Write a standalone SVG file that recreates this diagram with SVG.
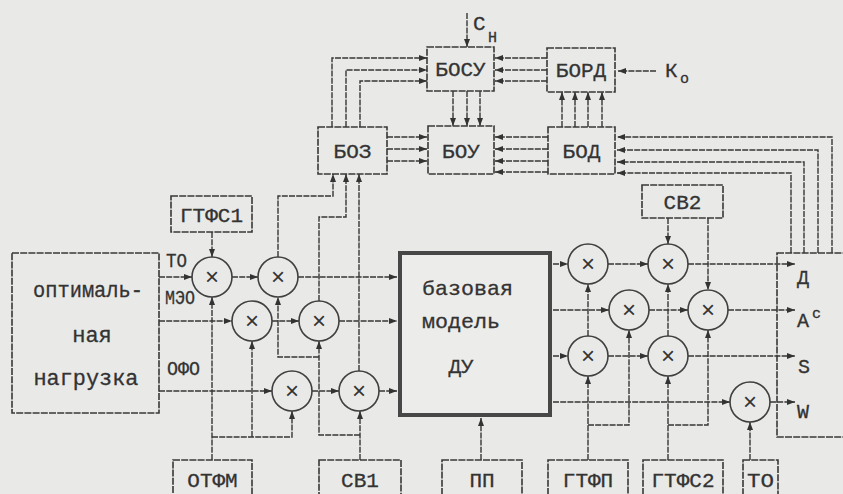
<svg xmlns="http://www.w3.org/2000/svg" width="843" height="494" viewBox="0 0 843 494">
<style>
.bx{fill:none;stroke:#383838;stroke-width:1.6;stroke-dasharray:7 1.2}
.thick{fill:#ececea;stroke:#474747;stroke-width:4}
.c{fill:none;stroke:#404040;stroke-width:1.6}
.ln{fill:none;stroke:#363636;stroke-width:1.4;stroke-dasharray:6 1.2}
.ar{marker-end:url(#a)}
.t{font-family:"Liberation Mono","DejaVu Sans Mono",monospace;font-size:21px;fill:#333;stroke:#333;stroke-width:0.3;text-anchor:middle}
.s{font-family:"Liberation Mono","DejaVu Sans Mono",monospace;font-size:21px;fill:#333;stroke:#333;stroke-width:0.3}
.x{font-family:"Liberation Sans","DejaVu Sans",sans-serif;font-size:24px;fill:#333;text-anchor:middle}
</style>
<defs>
<marker id="a" viewBox="0 0 8 6" refX="8" refY="3" markerWidth="8" markerHeight="6" markerUnits="userSpaceOnUse" orient="auto"><path d="M0,0 L8,3 L0,6 z" fill="#333"/></marker>
</defs>
<rect width="843" height="494" fill="#e9e9e7"/>

<g id="connectors">
<path class="ln ar" d="M467,13 V47"/>
<path class="ln ar" d="M656,71 H618"/>
<path class="ln ar" d="M332,127 V58 H427"/>
<path class="ln ar" d="M346,127 V70 H427"/>
<path class="ln ar" d="M360,127 V81 H427"/>
<path class="ln ar" d="M547,58 H495"/>
<path class="ln ar" d="M547,70 H495"/>
<path class="ln ar" d="M547,81 H495"/>
<path class="ln ar" d="M453,91 V126"/>
<path class="ln ar" d="M467,91 V126"/>
<path class="ln ar" d="M480,91 V126"/>
<path class="ln ar" d="M562,127 V92"/>
<path class="ln ar" d="M575,127 V92"/>
<path class="ln ar" d="M588,127 V92"/>
<path class="ln ar" d="M602,127 V92"/>
<path class="ln ar" d="M387,137 H427"/>
<path class="ln ar" d="M387,149 H427"/>
<path class="ln ar" d="M387,161 H427"/>
<path class="ln ar" d="M548,137 H495"/>
<path class="ln ar" d="M548,149 H495"/>
<path class="ln ar" d="M548,161 H495"/>
<path class="ln ar" d="M548,172 H495"/>
<path class="ln ar" d="M832,253 V137 H617"/>
<path class="ln ar" d="M818,253 V150 H617"/>
<path class="ln ar" d="M804,253 V162 H617"/>
<path class="ln ar" d="M791,253 V173 H617"/>
<path class="ln ar" d="M159,277 H192"/>
<path class="ln ar" d="M159,321 H232"/>
<path class="ln ar" d="M159,391 H272"/>
<path class="ln ar" d="M212,232 V257"/>
<path class="ln ar" d="M232,277 H258"/>
<path class="ln ar" d="M272,321 H299"/>
<path class="ln ar" d="M312,391 H339"/>
<path class="ln ar" d="M298,277 H397"/>
<path class="ln ar" d="M339,321 H397"/>
<path class="ln ar" d="M379,391 H397"/>
<path class="ln ar" d="M212,460 V297"/>
<path class="ln ar" d="M212,437 H292 V411"/>
<path class="ln ar" d="M252,437 V341"/>
<path class="ln ar" d="M360,460 V411"/>
<path class="ln ar" d="M360,435 H319 V341"/>
<path class="ln ar" d="M319,357 H278 V297"/>
<path class="ln ar" d="M278,257 V196 H333 V174"/>
<path class="ln ar" d="M319,301 V217 H346 V174"/>
<path class="ln ar" d="M359,371 V174"/>
<path class="ln ar" d="M481,460 V418"/>
<path class="ln ar" d="M553,264 H568"/>
<path class="ln ar" d="M553,310 H609"/>
<path class="ln ar" d="M553,356 H568"/>
<path class="ln ar" d="M553,402 H730"/>
<path class="ln ar" d="M608,264 H648"/>
<path class="ln ar" d="M688,264 H795"/>
<path class="ln ar" d="M649,310 H688"/>
<path class="ln ar" d="M728,310 H795"/>
<path class="ln ar" d="M608,356 H648"/>
<path class="ln ar" d="M688,356 H795"/>
<path class="ln ar" d="M770,402 H795"/>
<path class="ln ar" d="M668,218 V244"/>
<path class="ln ar" d="M708,218 V290"/>
<path class="ln ar" d="M588,460 V376"/>
<path class="ln ar" d="M588,425 H629 V330"/>
<path class="ln ar" d="M588,336 V284"/>
<path class="ln ar" d="M668,460 V376"/>
<path class="ln ar" d="M668,425 H708 V330"/>
<path class="ln ar" d="M668,336 V284"/>
<path class="ln ar" d="M750,460 V422"/>
</g>

<g id="label-Cn"><text class="s" x="473" y="30">С</text><text class="s" x="488" y="42" style="font-size:15px">Н</text></g>
<g id="label-Ko"><text class="s" x="665" y="77">К</text><text class="s" x="680" y="83" style="font-size:15px">о</text></g>

<g id="BOSU"><rect class="bx" x="427" y="47" width="67" height="44"/><text class="t" x="460.5" y="76">БОСУ</text></g>
<g id="BORD"><rect class="bx" x="547" y="48" width="68" height="44"/><text class="t" x="581" y="77">БОРД</text></g>
<g id="BOZ"><rect class="bx" x="318" y="127" width="69" height="47"/><text class="t" x="352.5" y="158">БОЗ</text></g>
<g id="BOU"><rect class="bx" x="428" y="126" width="66" height="48"/><text class="t" x="461" y="158">БОУ</text></g>
<g id="BOD"><rect class="bx" x="548" y="127" width="67" height="47"/><text class="t" x="581.5" y="158">БОД</text></g>

<g id="GTFS1"><rect class="bx" x="171" y="196" width="81" height="36"/><text class="t" x="211.5" y="222">ГТФС1</text></g>
<g id="SV2"><rect class="bx" x="642" y="185" width="81" height="33"/><text class="t" x="682.5" y="209">СВ2</text></g>

<g id="opt-load"><rect class="bx" x="12" y="253" width="147" height="160"/>
<text class="t" x="88" y="297" style="font-size:22px" textLength="110" lengthAdjust="spacingAndGlyphs">оптималь-</text>
<text class="t" x="92" y="342" style="font-size:22px">ная</text>
<text class="t" x="86" y="385" style="font-size:22px" textLength="105" lengthAdjust="spacingAndGlyphs">нагрузка</text></g>
<g id="label-TO"><text class="s" x="166" y="267" textLength="21" lengthAdjust="spacingAndGlyphs">ТО</text></g>
<g id="label-MEO"><text class="s" x="165" y="304" textLength="30" lengthAdjust="spacingAndGlyphs">МЭО</text></g>
<g id="label-OFO"><text class="s" x="167" y="375" textLength="33" lengthAdjust="spacingAndGlyphs">ОФО</text></g>

<g id="base-model"><rect class="thick" x="400" y="253" width="150" height="162"/>
<text class="t" x="422" y="295" style="text-anchor:start" textLength="91" lengthAdjust="spacingAndGlyphs">базовая</text>
<text class="t" x="422" y="328" style="text-anchor:start" textLength="78" lengthAdjust="spacingAndGlyphs">модель</text>
<text class="t" x="461" y="373">ДУ</text></g>

<g id="right-block"><rect class="bx" x="777" y="253" width="100" height="184"/>
<text class="s" x="797" y="284" style="font-size:20px">Д</text>
<text class="s" x="797" y="327" style="font-size:20px">А</text><text class="s" x="812" y="318" style="font-size:15px">с</text>
<text class="s" x="798" y="373" style="font-size:20px">S</text>
<text class="s" x="797" y="418" style="font-size:20px">W</text></g>

<g id="m1"><circle class="c" cx="212" cy="277" r="20"/><text class="x" x="212" y="285">×</text></g>
<g id="m2"><circle class="c" cx="278" cy="277" r="20"/><text class="x" x="278" y="285">×</text></g>
<g id="m3"><circle class="c" cx="252" cy="321" r="20"/><text class="x" x="252" y="329">×</text></g>
<g id="m4"><circle class="c" cx="319" cy="321" r="20"/><text class="x" x="319" y="329">×</text></g>
<g id="m5"><circle class="c" cx="292" cy="391" r="20"/><text class="x" x="292" y="399">×</text></g>
<g id="m6"><circle class="c" cx="359" cy="391" r="20"/><text class="x" x="359" y="399">×</text></g>
<g id="m7"><circle class="c" cx="588" cy="264" r="20"/><text class="x" x="588" y="272">×</text></g>
<g id="m8"><circle class="c" cx="668" cy="264" r="20"/><text class="x" x="668" y="272">×</text></g>
<g id="m9"><circle class="c" cx="629" cy="310" r="20"/><text class="x" x="629" y="318">×</text></g>
<g id="m10"><circle class="c" cx="708" cy="310" r="20"/><text class="x" x="708" y="318">×</text></g>
<g id="m11"><circle class="c" cx="588" cy="356" r="20"/><text class="x" x="588" y="364">×</text></g>
<g id="m12"><circle class="c" cx="668" cy="356" r="20"/><text class="x" x="668" y="364">×</text></g>
<g id="m13"><circle class="c" cx="750" cy="402" r="20"/><text class="x" x="750" y="410">×</text></g>

<g id="OTFM"><rect class="bx" x="173" y="460" width="79" height="40"/><text class="t" x="212.5" y="487">ОТФМ</text></g>
<g id="SV1"><rect class="bx" x="319" y="460" width="82" height="40"/><text class="t" x="360" y="487">СВ1</text></g>
<g id="PP"><rect class="bx" x="442" y="460" width="80" height="40"/><text class="t" x="482" y="487">ПП</text></g>
<g id="GTFP"><rect class="bx" x="548" y="460" width="80" height="40"/><text class="t" x="588" y="487">ГТФП</text></g>
<g id="GTFS2"><rect class="bx" x="643" y="460" width="80" height="40"/><text class="t" x="683" y="487">ГТФС2</text></g>
<g id="TO-src"><rect class="bx" x="743" y="460" width="35" height="40"/><text class="t" x="760.5" y="487" textLength="27" lengthAdjust="spacingAndGlyphs">ТО</text></g>
</svg>
